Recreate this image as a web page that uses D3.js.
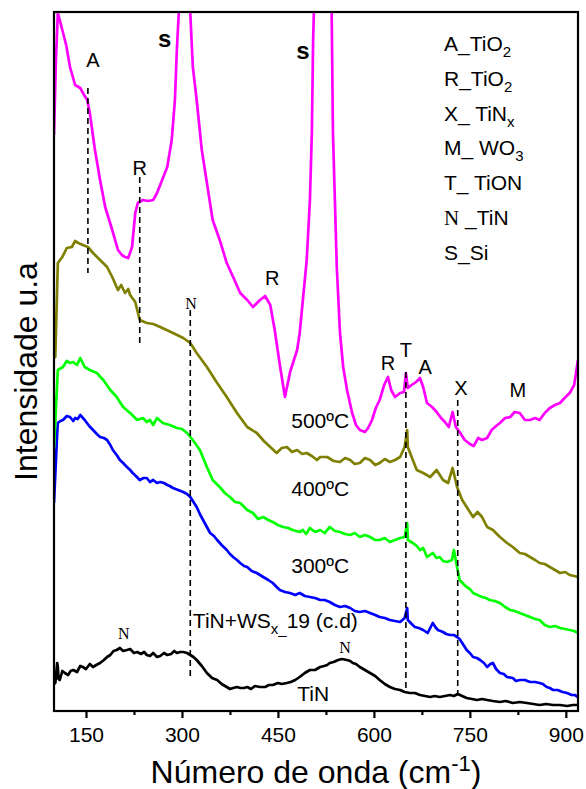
<!DOCTYPE html>
<html>
<head>
<meta charset="utf-8">
<script src="https://cdn.jsdelivr.net/npm/d3@7"></script>
<style>
  body { margin: 0; background: #fff; }
  svg { display: block; }
</style>
</head>
<body>
<script>
// Raman spectra: [wavenumber (cm-1), intensity (a.u., offset for stacking)]
const spec500 = [
  [100,576],[103,651],[106,698],[109,691],[113,681],[119,666],[125,644],[133,626],[141,623],[147,616],
  [152,611],[156,598],[164,561],[172,531],[180,504],[191,481],[200,461],[206,456],[211,454],[216,453],
  [222,464],[227,498],[231,508],[239,511],[247,510],[255,511],[261,518],[269,531],[277,544],[284,571],
  [289,611],[292,661],[295,698],[303,900],[313,698],[317,644],[323,611],[331,561],[339,528],[348,491],
  [359,471],[370,448],[380,434],[391,418],[402,411],[411,404],[422,411],[430,415],[438,406],[445,381],
  [453,346],[461,314],[469,339],[480,361],[484,378],[489,411],[495,451],[500,511],[503,578],[505,671],
  [519,1000],[534,698],[536,578],[539,511],[542,444],[547,378],[552,344],[558,321],[566,298],[572,286],
  [578,281],[586,279],[591,283],[597,291],[603,303],[609,311],[616,326],[622,334],[627,321],[633,314],
  [641,318],[647,319],[650,338],[653,323],[659,326],[666,329],[672,333],[677,324],[683,308],[691,304],
  [698,299],[705,293],[711,289],[717,284],[723,299],[728,284],[734,279],[742,271],[750,267],[756,265],
  [763,273],[769,271],[777,273],[784,281],[791,285],[797,288],[805,293],[813,294],[820,299],[828,298],
  [836,291],[844,291],[852,293],[859,291],[867,298],[875,303],[883,306],[891,308],[898,313],[906,318],
  [913,326],[919,351]
];
const spec400 = [
  [100,356],[102,354],[106,448],[113,454],[120,463],[128,464],[133,470],[138,468],[145,466],[153,464],
  [161,458],[172,451],[183,444],[191,434],[200,421],[205,426],[211,418],[216,422],[219,416],[227,409],
  [234,391],[245,388],[255,387],[266,384],[276,381],[286,378],[302,373],[313,368],[323,358],[339,344],
  [355,328],[370,314],[386,298],[402,284],[417,278],[428,270],[438,264],[448,258],[456,263],[464,264],
  [472,259],[480,261],[488,257],[495,258],[503,255],[511,251],[516,254],[527,254],[537,250],[547,249],
  [555,253],[563,251],[570,247],[578,248],[586,253],[594,251],[602,246],[609,248],[617,252],[625,249],
  [633,251],[641,254],[648,264],[652,281],[653,264],[659,254],[667,241],[677,238],[688,234],[698,241],
  [708,231],[716,228],[723,243],[730,224],[738,211],[745,204],[755,194],[762,199],[769,194],[777,184],
  [786,181],[797,174],[808,168],[817,164],[828,158],[836,157],[844,154],[852,151],[859,148],[867,147],
  [875,144],[883,141],[891,138],[899,139],[906,136],[913,135],[919,134]
];
const spec300 = [
  [100,263],[106,341],[114,344],[120,350],[125,348],[130,349],[136,346],[141,353],[148,344],[156,341],
  [167,338],[177,331],[188,321],[198,314],[208,304],[219,298],[230,291],[239,293],[245,289],[250,291],
  [255,286],[261,293],[270,288],[281,286],[292,283],[300,282],[308,278],[317,271],[328,261],[339,244],
  [348,231],[359,224],[367,218],[375,214],[383,209],[391,208],[402,201],[411,198],[419,192],[427,194],
  [435,191],[442,189],[450,186],[458,184],[466,183],[473,181],[484,179],[489,181],[494,177],[500,183],
  [508,179],[516,181],[523,178],[531,184],[539,180],[547,179],[555,177],[563,176],[570,178],[578,174],
  [586,176],[594,174],[602,171],[609,171],[617,173],[625,169],[633,171],[641,173],[648,174],[652,188],
  [653,171],[661,168],[667,165],[672,161],[677,163],[683,154],[692,158],[698,153],[703,154],[708,150],
  [714,149],[722,151],[725,161],[730,144],[734,131],[740,127],[745,124],[750,122],[755,118],[762,116],
  [769,114],[775,113],[781,111],[789,110],[797,108],[805,104],[813,101],[820,100],[828,98],[836,96],
  [844,94],[852,92],[859,91],[867,86],[875,84],[883,85],[891,83],[899,82],[906,81],[913,80],[919,78]
];
const specAsDep = [
  [100,208],[105,278],[106,288],[110,290],[114,291],[120,295],[125,294],[130,290],[133,293],[137,292],
  [141,296],[148,291],[155,285],[161,281],[167,277],[172,274],[178,273],[183,271],[188,266],[192,261],
  [198,256],[203,251],[208,248],[214,244],[219,241],[223,238],[228,235],[234,231],[240,233],[245,233],
  [250,229],[255,231],[261,228],[266,229],[272,228],[277,226],[281,225],[286,223],[294,221],[302,219],
  [308,217],[313,214],[318,209],[323,204],[328,197],[333,191],[339,184],[344,178],[350,175],[355,171],
  [362,166],[370,161],[375,157],[380,154],[386,151],[391,148],[397,145],[402,144],[409,140],[417,138],
  [422,136],[427,134],[435,131],[442,128],[448,124],[453,121],[461,119],[469,118],[477,116],[484,118],
  [492,115],[500,114],[508,113],[516,111],[523,111],[531,109],[539,106],[547,104],[555,105],[563,103],
  [570,100],[578,99],[586,100],[594,98],[602,96],[609,94],[617,93],[625,91],[633,90],[641,89],
  [648,93],[652,103],[653,91],[659,87],[664,84],[670,83],[677,81],[684,78],[692,88],[696,84],
  [700,81],[708,79],[713,77],[719,76],[725,76],[730,74],[734,72],[738,68],[745,61],[750,58],
  [755,54],[761,53],[766,51],[772,48],[777,44],[782,47],[786,48],[791,42],[797,38],[803,37],
  [808,34],[817,33],[822,30],[828,31],[836,31],[844,29],[852,29],[859,28],[864,27],[870,24],
  [875,23],[880,21],[887,21],[895,19],[902,18],[909,16],[914,16],[919,14]
];
const specTiN = [
  [100,30],[102,28],[105,48],[106,44],[107,32],[109,31],[113,40],[117,38],[122,36],[126,40],
  [130,41],[136,39],[141,45],[145,44],[150,42],[156,47],[161,44],[166,46],[172,48],[178,51],
  [183,54],[188,56],[193,60],[198,61],[203,63],[208,60],[214,61],[219,62],[225,58],[230,59],
  [236,57],[241,59],[245,56],[250,55],[255,58],[261,54],[266,55],[272,58],[277,56],[283,57],
  [288,60],[292,58],[297,59],[302,59],[308,58],[313,56],[318,54],[323,51],[331,45],[339,38],
  [347,33],[355,31],[362,27],[370,24],[375,22],[380,23],[386,24],[391,23],[397,23],[402,24],
  [408,22],[414,25],[422,24],[430,24],[436,26],[442,26],[450,28],[456,27],[464,28],[470,29],
  [477,31],[484,34],[492,38],[500,41],[508,41],[516,44],[522,45],[527,46],[531,48],[537,49],
  [544,51],[550,52],[558,51],[563,50],[567,48],[572,47],[578,44],[586,41],[594,38],[602,35],
  [609,31],[617,27],[625,24],[633,22],[641,21],[648,19],[656,18],[664,18],[672,16],[680,15],
  [688,14],[695,15],[703,14],[711,15],[719,16],[725,15],[731,17],[738,15],[745,13],[753,12],
  [761,11],[769,12],[777,11],[786,10],[797,9],[806,10],[817,8],[828,9],[839,8],[849,7],
  [859,6],[869,7],[880,6],[891,6],[902,5],[911,6],[919,6]
];

const series = [
  { data: specTiN,   color: "#000000" },
  { data: specAsDep, color: "#0000ff" },
  { data: spec300,   color: "#00ff00" },
  { data: spec400,   color: "#808000" },
  { data: spec500,   color: "#ff00ff" }
];

// Axis ticks
const majorTicks = [150, 300, 450, 600, 750, 900];
const minorTicks = [225, 375, 525, 675, 825];

// Reference band positions (dashed guides): [wavenumber, top, bottom]
const bandGuides = [
  [153, 623, 438],
  [234, 534, 368],
  [313, 401, 31],
  [650, 339, 21],
  [731, 311, 16]
];

// Phase letters over the peaks: [label, wavenumber, intensity]
const peakLetters = [
  ["A", 161, 651], ["R", 234, 543], ["R", 441, 433], ["R", 622, 348],
  ["T", 650, 361], ["A", 680, 344], ["X", 736, 323], ["M", 825, 321]
];
const siLetters = [["s", 273, 673], ["s", 489, 661]];
const tinLetters = [["N", 314, 408], ["N", 209, 78], ["N", 555, 64]];

// Curve names: [label, wavenumber, intensity]
const curveNames = [
  ["500ºC", 516, 291],
  ["400ºC", 516, 223],
  ["300ºC", 516, 146]
];

// Phase key (text lines, with optional subscript)
const phaseKey = [
  { main: "A_TiO", sub: "2" },
  { main: "R_TiO", sub: "2" },
  { main: "X_ TiN", sub: "x" },
  { main: "M_ WO", sub: "3" },
  { main: "T_ TiON", sub: "" },
  { serif: "N", main: " _TiN", sub: "" },
  { main: "S_Si", sub: "" }
];

const W = 586, H = 789;
const L = 54, R = 578, T = 12, B = 711;
const SANS = "'Liberation Sans', Arial, Helvetica, sans-serif";
const SERIF = "'Liberation Serif', 'Times New Roman', serif";

const x = d3.scaleLinear().domain([100, 919]).range([L, R]);
const y = d3.scaleLinear().domain([0, 699]).range([B, T]);

const svg = d3.select("body").append("svg")
  .attr("width", W).attr("height", H)
  .style("font-family", SANS);

svg.append("clipPath").attr("id", "plotArea")
  .append("rect").attr("x", L).attr("y", T).attr("width", R - L).attr("height", B - T);

const line = d3.line().x(d => x(d[0])).y(d => y(d[1]));

const curves = svg.append("g").attr("clip-path", "url(#plotArea)");
series.forEach(s => {
  curves.append("path")
    .datum(s.data)
    .attr("d", line)
    .attr("fill", "none")
    .attr("stroke", s.color)
    .attr("stroke-width", 2.7)
    .attr("stroke-linejoin", "round");
});

// dashed band guides
svg.append("g").selectAll("line").data(bandGuides).join("line")
  .attr("x1", d => x(d[0])).attr("x2", d => x(d[0]))
  .attr("y1", d => y(d[1])).attr("y2", d => y(d[2]))
  .attr("stroke", "#000").attr("stroke-width", 1.6)
  .attr("stroke-dasharray", "6,4");

// frame
svg.append("rect")
  .attr("x", L).attr("y", T).attr("width", R - L).attr("height", B - T)
  .attr("fill", "none").attr("stroke", "#000").attr("stroke-width", 2.2);

// bottom axis
const xAxis = d3.axisBottom(x).tickValues(majorTicks).tickSize(7).tickPadding(9)
  .tickFormat(d3.format("d"));
svg.append("g").attr("transform", `translate(0,${B})`).call(xAxis)
  .call(g => {
    g.select(".domain").remove();
    g.selectAll("line").attr("stroke-width", 2.2);
    g.selectAll("text").attr("font-size", 21).attr("font-family", SANS).attr("fill", "#000");
  });
svg.append("g").attr("transform", `translate(0,${B})`)
  .call(d3.axisBottom(x).tickValues(minorTicks).tickSize(4).tickFormat(""))
  .call(g => {
    g.select(".domain").remove();
    g.selectAll("line").attr("stroke-width", 2.2);
  });

// axis titles
const xt = svg.append("text")
  .attr("x", (L + R) / 2).attr("y", 783)
  .attr("text-anchor", "middle")
  .attr("font-size", 32).attr("fill", "#000");
xt.append("tspan").text("Número de onda (cm");
xt.append("tspan").attr("dy", -12).attr("font-size", 22).text("-1");
xt.append("tspan").attr("dy", 12).text(")");

svg.append("text")
  .attr("transform", `translate(37,${(T + B) / 2 + 10}) rotate(-90)`)
  .attr("text-anchor", "middle")
  .attr("font-size", 32).attr("fill", "#000")
  .text("Intensidade u.a");

// peak letters
svg.append("g").selectAll("text").data(peakLetters).join("text")
  .attr("x", d => x(d[1])).attr("y", d => y(d[2]))
  .attr("dy", "0.36em")
  .attr("text-anchor", "middle")
  .attr("font-size", 20).attr("fill", "#000")
  .text(d => d[0]);

svg.append("g").selectAll("text").data(siLetters).join("text")
  .attr("x", d => x(d[1])).attr("y", d => y(d[2]))
  .attr("dy", "0.36em")
  .attr("text-anchor", "middle")
  .attr("font-size", 24).attr("font-weight", "bold").attr("fill", "#000")
  .text(d => d[0]);

svg.append("g").selectAll("text").data(tinLetters).join("text")
  .attr("x", d => x(d[1])).attr("y", d => y(d[2]))
  .attr("dy", "0.36em")
  .attr("text-anchor", "middle")
  .attr("font-family", SERIF)
  .attr("font-size", 16).attr("fill", "#000")
  .text(d => d[0]);

// curve names
svg.append("g").selectAll("text").data(curveNames).join("text")
  .attr("x", d => x(d[1])).attr("y", d => y(d[2]))
  .attr("dy", "0.36em")
  .attr("text-anchor", "middle")
  .attr("font-size", 21).attr("fill", "#000")
  .text(d => d[0]);

const asDep = svg.append("text")
  .attr("x", x(317)).attr("y", y(91)).attr("dy", "0.36em")
  .attr("font-size", 21).attr("fill", "#000");
asDep.append("tspan").text("TiN+WS");
asDep.append("tspan").attr("dy", 6).attr("font-size", 15).text("x_");
asDep.append("tspan").attr("dy", -6).text("19 (c.d)");

svg.append("text")
  .attr("x", x(505)).attr("y", y(18)).attr("dy", "0.36em")
  .attr("text-anchor", "middle")
  .attr("font-size", 21).attr("fill", "#000")
  .text("TiN");

// phase key
const key = svg.append("g").attr("transform", "translate(444,51)");
phaseKey.forEach((k, i) => {
  const t = key.append("text").attr("x", 0).attr("y", i * 34.8)
    .attr("font-size", 21).attr("fill", "#000");
  if (k.serif) t.append("tspan").attr("font-family", SERIF).text(k.serif);
  t.append("tspan").text(k.main);
  if (k.sub) t.append("tspan").attr("dy", 6).attr("font-size", 15).text(k.sub);
});
</script>
</body>
</html>
